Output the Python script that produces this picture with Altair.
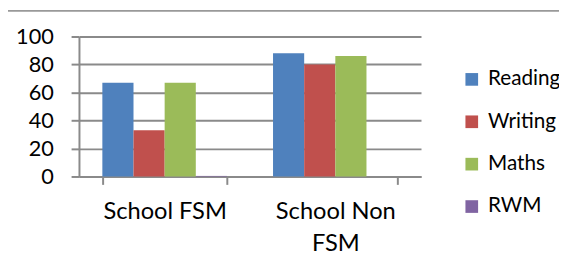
import altair as alt
import pandas as pd

categories = ["School FSM", "School Non FSM"]
subjects = ["Reading", "Writing", "Maths", "RWM"]
reading = [67, 88]
writing = [33, 80]
maths = [67, 86]
rwm = [0.4, 0]
colors = ["#4F81BD", "#C0504D", "#9BBB59", "#8064A2"]

rows = []
for i, c in enumerate(categories):
    for s, vals in zip(subjects, [reading, writing, maths, rwm]):
        rows.append({"category": c, "subject": s, "value": vals[i]})
df = pd.DataFrame(rows)

FONT = "Lato"
GRID = "#8a8a8a"

bars = alt.Chart(df).mark_bar().encode(
    x=alt.X("category:N", sort=categories, title=None,
            scale=alt.Scale(paddingInner=0.27, paddingOuter=0.137),
            axis=alt.Axis(labelAngle=0, tickBand="extent", tickSize=8, tickColor=GRID,
                          tickWidth=2, domainColor=GRID, domainWidth=2,
                          labelFontSize=24, labelFont=FONT, labelColor="#000",
                          labelPadding=16, labelLineHeight=32, labelBaseline="top",
                          labelExpr="datum.label == 'School Non FSM' ? ['School Non', 'FSM'] : datum.label")),
    xOffset=alt.XOffset("subject:N", sort=subjects, scale=alt.Scale(paddingInner=0, paddingOuter=0)),
    y=alt.Y("value:Q", title=None, scale=alt.Scale(domain=[0, 100]),
            axis=alt.Axis(values=[0, 20, 40, 60, 80, 100], tickSize=8, tickColor=GRID, tickWidth=2,
                          gridColor=GRID, gridWidth=2, domainColor=GRID, domainWidth=2,
                          labelFontSize=22, labelFont=FONT, labelColor="#000", labelPadding=18)),
    color=alt.Color("subject:N", sort=subjects,
                    scale=alt.Scale(domain=subjects, range=colors),
                    legend=alt.Legend(title=None, orient="none", legendX=388, legendY=33,
                                      symbolType="square", symbolSize=165, symbolStrokeWidth=0,
                                      labelFontSize=21, labelFont=FONT, labelColor="#000",
                                      labelOffset=6, rowPadding=21, padding=0)),
)

topline = alt.Chart(alt.Data(values=[{}])).mark_rule(color="#999999", strokeWidth=2).encode(
    x=alt.value(-72), x2=alt.value(487), y=alt.value(-26)
)

chart = alt.layer(bars, topline).properties(
    width=347, height=142,
    autosize=alt.AutoSizeParams(type="none"),
    padding={"left": 72, "top": 27, "right": 140, "bottom": 97},
).configure_view(stroke=None).configure_axis(grid=True).configure_axisX(grid=False)

chart.save("out.html", embed_options={"renderer": "svg", "actions": False})
